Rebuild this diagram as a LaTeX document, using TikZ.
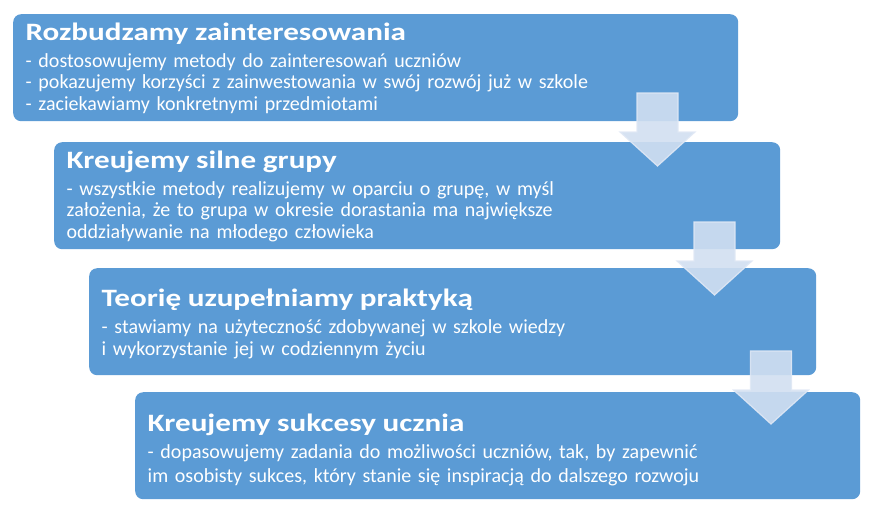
\documentclass[tikz,border=0pt]{standalone}
\usepackage{fontspec}
\setmainfont{Carlito}
\newfontfamily\titlefont{Carlito}[FakeStretch=1.245]
\definecolor{stepblue}{RGB}{91,155,213}
\definecolor{arrowfill}{RGB}{209,223,241}
\definecolor{arrowline}{RGB}{224,232,245}
\newcommand{\steptitle}[1]{{\titlefont\fontsize{25}{28}\selectfont\bfseries #1}\\[5.5pt]}
\begin{document}
\begin{tikzpicture}[
        x=1pt, y=-1pt,
        font=\fontsize{20}{21.5}\selectfont
    ]
    \tikzset{
        stepbox/.style = {rectangle, rounded corners=8pt, fill=stepblue, draw=none, text=white,
            anchor=north west, align=left, inner xsep=12.5pt, inner ysep=0pt, text width=#1},
        steparrow/.style = {fill=arrowfill, fill opacity=0.9, draw=arrowline, draw opacity=0.9, line width=1.2pt}
    }
    \useasboundingbox (0,0) rectangle (877,515);
    \node[stepbox=700pt, text height=26pt, text depth=81pt] (grow) at (13,14)
        {\steptitle{Rozbudzamy zainteresowania}%
         - dostosowujemy metody do zainteresowań uczniów\\
         - pokazujemy korzyści z zainwestowania w swój rozwój już w szkole\\
         - zaciekawiamy konkretnymi przedmiotami};
    \node[stepbox=701pt, text height=26pt, text depth=81pt] (group) at (54,142)
        {\steptitle{Kreujemy silne grupy}%
         - wszystkie metody realizujemy w oparciu o grupę, w myśl\\
         założenia, że to grupa w okresie dorastania ma największe\\
         oddziaływanie na młodego człowieka};
    \node[stepbox=702pt, text height=38.5pt, text depth=68.5pt] (practice) at (89,268)
        {\steptitle{Teorię uzupełniamy praktyką}%
         - stawiamy na użyteczność zdobywanej w szkole wiedzy\\
         i wykorzystanie jej w codziennym życiu};
    \node[stepbox=700pt, text height=39.5pt, text depth=67.5pt] (success) at (135,392)
        {\steptitle{Kreujemy sukcesy ucznia}%
         - dopasowujemy zadania do możliwości uczniów, tak, by zapewnić\\[2pt]
         im osobisty sukces, który stanie się inspiracją do dalszego rozwoju};
    % arrows between the steps
    \draw[steparrow] (637,93) -- (678,93) -- (678,132) -- (695,132) -- (657.5,166) -- (620,132) -- (637,132) -- cycle;
    \draw[steparrow] (694,222) -- (735,222) -- (735,261) -- (752,261) -- (714.5,295) -- (677,261) -- (694,261) -- cycle;
    \draw[steparrow] (750.5,351) -- (791.5,351) -- (791.5,390) -- (808.5,390) -- (771,424) -- (733.5,390) -- (750.5,390) -- cycle;
\end{tikzpicture}
\end{document}
